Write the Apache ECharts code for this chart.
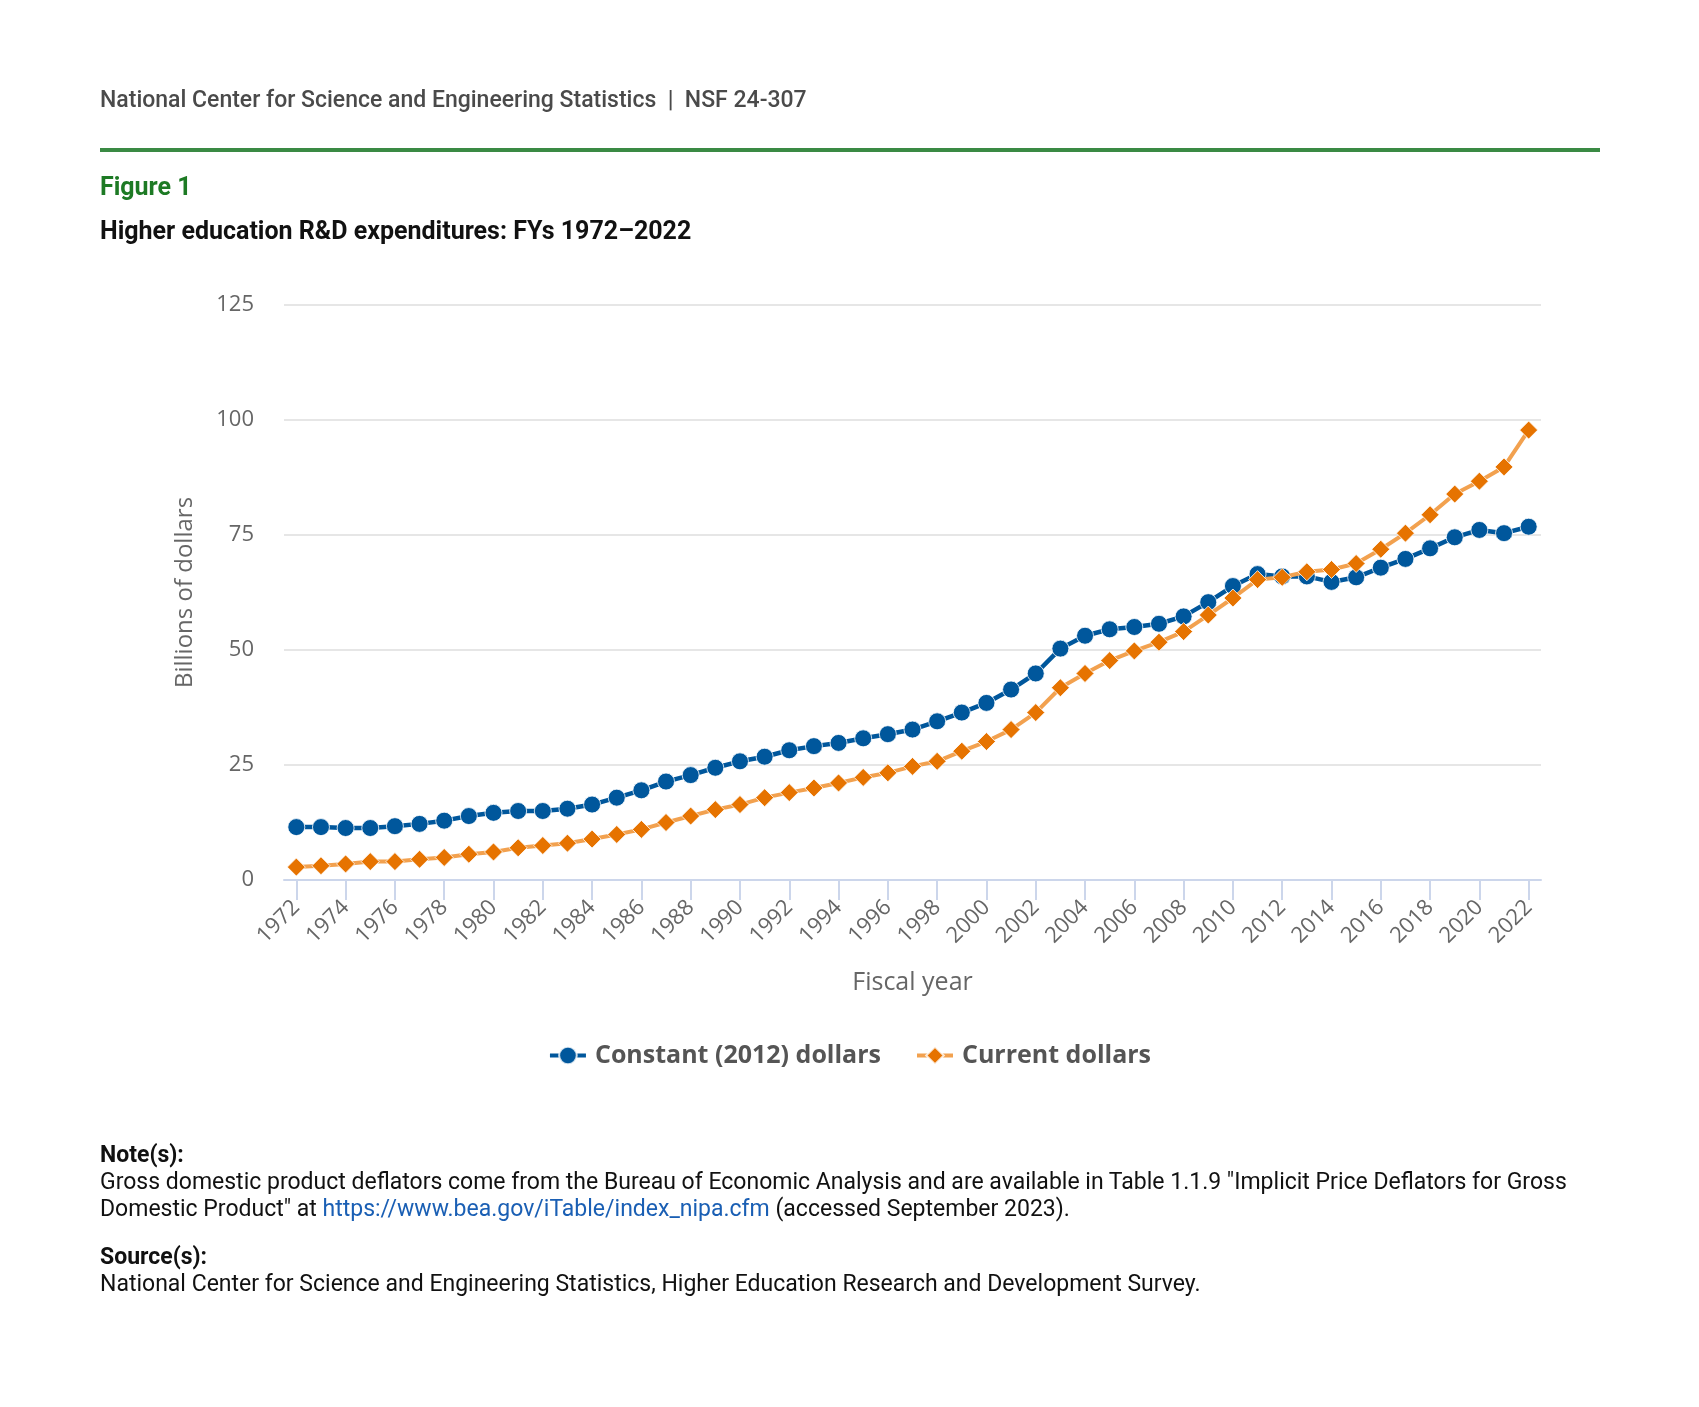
<!DOCTYPE html>
<html>
<head>
<meta charset="utf-8">
<script src="https://cdn.jsdelivr.net/npm/echarts@6/dist/echarts.min.js"></script>
<style>
  html, body { margin: 0; padding: 0; background: #fff; }
  body { width: 1699px; height: 1407px; position: relative; overflow: hidden; font-family: Roboto, "Noto Sans", sans-serif; }
  #chart { position: absolute; left: 0; top: 0; width: 1699px; height: 1407px; }
  .txt { position: absolute; left: 100px; white-space: nowrap; z-index: 2; }
  #hdr { top: 85px; font-size: 23px; color: #4a4a4a; font-weight: 500; line-height: 30px; }
  #rule { position: absolute; left: 100px; top: 148px; width: 1500px; height: 4px; background: #3a8a44; z-index: 2; }
  #fig { top: 172px; font-size: 25px; font-weight: 700; color: #1d7a24; line-height: 30px; }
  #ttl { top: 216px; font-size: 25px; font-weight: 700; color: #111; line-height: 30px; }
  #notes { top: 1141px; font-size: 23px; color: #111; line-height: 27px; }
  #notes b { font-weight: 700; }
  #notes a { color: #1a5fb4; text-decoration: none; }
</style>
</head>
<body>
<div id="chart"></div>
<div class="txt" id="hdr">National Center for Science and Engineering Statistics&nbsp; |&nbsp; NSF 24-307</div>
<div id="rule"></div>
<div class="txt" id="fig">Figure 1</div>
<div class="txt" id="ttl">Higher education R&amp;D expenditures: FYs 1972–2022</div>
<div class="txt" id="notes">
<b>Note(s):</b><br>
Gross domestic product deflators come from the Bureau of Economic Analysis and are available in Table 1.1.9 "Implicit Price Deflators for Gross<br>
Domestic Product" at <a href="https://www.bea.gov/iTable/index_nipa.cfm">https://www.bea.gov/iTable/index_nipa.cfm</a> (accessed September 2023).<br>
<div style="height:21px"></div>
<b>Source(s):</b><br>
National Center for Science and Engineering Statistics, Higher Education Research and Development Survey.
</div>
<script>
const years = ['1972','1973','1974','1975','1976','1977','1978','1979','1980','1981',
  '1982','1983','1984','1985','1986','1987','1988','1989','1990','1991',
  '1992','1993','1994','1995','1996','1997','1998','1999','2000','2001',
  '2002','2003','2004','2005','2006','2007','2008','2009','2010','2011',
  '2012','2013','2014','2015','2016','2017','2018','2019','2020','2021','2022'];

const constantDollars = [11.5, 11.5, 11.3, 11.3, 11.7, 12.2, 12.9, 13.9, 14.6, 15.0,
  15.0, 15.5, 16.4, 17.9, 19.5, 21.4, 22.8, 24.4, 25.8, 26.8,
  28.2, 29.1, 29.8, 30.8, 31.7, 32.7, 34.5, 36.4, 38.5, 41.4,
  44.9, 50.3, 53.1, 54.5, 55.0, 55.7, 57.3, 60.4, 63.9, 66.5,
  66.0, 66.0, 64.8, 65.8, 67.9, 69.8, 72.1, 74.5, 76.1, 75.4, 76.8];

const currentDollars = [2.8, 3.1, 3.5, 4.0, 4.0, 4.5, 4.9, 5.6, 6.1, 7.0,
  7.5, 8.0, 8.9, 9.9, 11.0, 12.5, 13.9, 15.3, 16.4, 17.9,
  19.0, 20.0, 21.1, 22.3, 23.3, 24.7, 25.8, 28.0, 30.1, 32.7,
  36.4, 41.8, 44.9, 47.7, 49.8, 51.7, 54.0, 57.6, 61.3, 65.3,
  65.8, 67.0, 67.5, 68.8, 71.9, 75.4, 79.4, 83.9, 86.7, 89.8, 97.8];

const yTicks = { min: 0, max: 125, interval: 25 };
const seriesNames = ['Constant (2012) dollars', 'Current dollars'];

const chart = echarts.init(document.getElementById('chart'), null, { renderer: 'canvas' });
const axisText = { fontFamily: '"Open Sans", sans-serif', color: '#666666' };

chart.setOption({
  animation: false,
  backgroundColor: '#ffffff',
  textStyle: { fontFamily: '"Open Sans", sans-serif' },
  grid: { left: 284, right: 158, top: 305, bottom: 527, containLabel: false },
  legend: {
    data: seriesNames,
    left: 'center',
    top: 1038,
    itemWidth: 36,
    itemHeight: 22,
    itemGap: 34,
    lineStyle: { width: 4 },
    textStyle: { fontFamily: '"Open Sans", sans-serif', fontSize: 25, fontWeight: 'bold', color: '#555555', padding: [0, 0, 0, 4] }
  },
  xAxis: {
    type: 'category',
    data: years,
    boundaryGap: true,
    name: 'Fiscal year',
    nameLocation: 'middle',
    nameGap: 90,
    nameTextStyle: Object.assign({ fontSize: 25 }, axisText),
    axisLine: { lineStyle: { color: '#ccd6eb', width: 2 } },
    axisTick: { show: true, alignWithLabel: true, interval: 1, length: 20, lineStyle: { color: '#ccd6eb', width: 2 } },
    axisLabel: Object.assign({ rotate: 45, interval: 1, fontSize: 22, margin: 24 }, axisText),
    splitLine: { show: false }
  },
  yAxis: {
    type: 'value',
    min: yTicks.min,
    max: yTicks.max,
    interval: yTicks.interval,
    name: 'Billions of dollars',
    nameLocation: 'middle',
    nameGap: 87,
    nameTextStyle: Object.assign({ fontSize: 24 }, axisText),
    axisLine: { show: false },
    axisTick: { show: false },
    axisLabel: Object.assign({ fontSize: 22, margin: 30 }, axisText),
    splitLine: { lineStyle: { color: '#e6e6e6', width: 2 } }
  },
  series: [
    {
      name: seriesNames[0],
      type: 'line',
      data: constantDollars,
      symbol: 'circle',
      symbolSize: 17,
      showAllSymbol: true,
      itemStyle: { color: '#00579c', borderColor: 'rgba(255,255,255,0.8)', borderWidth: 1 },
      lineStyle: { color: '#00579c', width: 4.5 },
      z: 2
    },
    {
      name: seriesNames[1],
      type: 'line',
      data: currentDollars,
      symbol: 'diamond',
      symbolSize: 18,
      showAllSymbol: true,
      itemStyle: { color: '#e67300', borderColor: 'rgba(255,255,255,0.8)', borderWidth: 1 },
      lineStyle: { color: '#f2a14f', width: 4 },
      z: 3
    }
  ]
});
</script>
</body>
</html>
